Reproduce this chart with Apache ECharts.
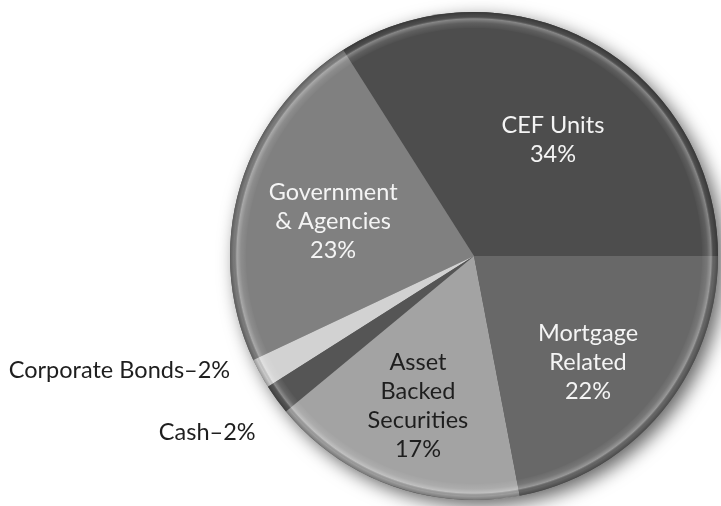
<!DOCTYPE html>
<html>
<head>
<meta charset="utf-8">
<script src="https://cdn.jsdelivr.net/npm/echarts@6/dist/echarts.min.js"></script>
<style>
  html, body { margin: 0; padding: 0; background: #ffffff; }
  #chart { width: 721px; height: 506px; }
</style>
</head>
<body>
<div id="chart"></div>
<script>
// Portfolio allocation, percent of total
const categories = ['CEF Units', 'Government\n& Agencies', 'Corporate Bonds', 'Cash', 'Asset\nBacked\nSecurities', 'Mortgage\nRelated'];
const shares = [34, 23, 2, 2, 17, 22];

// Styling per slice
const sliceColors = ['#4d4d4d', '#808080', '#d2d2d2', '#555555', '#a3a3a3', '#686868'];
const labelColors = ['#f4f4f4', '#f4f4f4', '#1e1e1e', '#1e1e1e', '#1e1e1e', '#f4f4f4'];
const labelOutside = [false, false, true, true, false, false];
// inside labels: fraction of radius and angular nudge (deg); outside labels: offset from the rim point
const labelRadius = [0.574, 0.594, 0, 0, 0.656, 0.639];
const labelNudge = [-5.5, 2.6, 0, 0, -0.7, -3.4];
const labelOffset = [null, null, [-30, -3], [-21, 33], null, null];

const CX = 474, CY = 256, R = 244;
const FONT = 'Lato, "Open Sans", sans-serif';

const total = shares.reduce((a, b) => a + b, 0);
const midAngles = [];
let acc = 0;
shares.forEach(v => {
  midAngles.push((acc + v / 2) / total * 360);
  acc += v;
});

const chart = echarts.init(document.getElementById('chart'), null, { renderer: 'canvas' });

chart.setOption({
  backgroundColor: '#ffffff',
  animation: false,
  series: [
    {
      // drop shadow under the disc
      type: 'pie',
      silent: true,
      center: [CX, CY],
      radius: R,
      label: { show: false },
      labelLine: { show: false },
      emphasis: { disabled: true },
      itemStyle: {
        color: '#555555',
        shadowBlur: 18,
        shadowColor: 'rgba(0,0,0,0.6)',
        shadowOffsetX: 6,
        shadowOffsetY: 6
      },
      data: [{ value: 1, name: '' }]
    },
    {
      type: 'pie',
      center: [CX, CY],
      radius: R,
      startAngle: 0,
      clockwise: false,
      avoidLabelOverlap: false,
      emphasis: { disabled: true },
      itemStyle: { borderWidth: 0 },
      labelLine: { show: false },
      data: categories.map((name, i) => ({
        name: name,
        value: shares[i],
        itemStyle: { color: sliceColors[i] },
        label: {
          show: true,
          position: labelOutside[i] ? 'outside' : 'inside',
          formatter: labelOutside[i] ? '{b}\u2013{c}%' : '{b}\n{c}%',
          color: labelColors[i],
          fontFamily: FONT,
          fontSize: 23.5,
          lineHeight: 29,
          align: labelOutside[i] ? 'right' : 'center'
        }
      })),
      labelLayout: function (p) {
        const i = p.dataIndex;
        if (labelOutside[i]) {
          const a = midAngles[i] * Math.PI / 180;
          const ex = CX + R * Math.cos(a);
          const ey = CY - R * Math.sin(a);
          return { x: ex + labelOffset[i][0], y: ey + labelOffset[i][1], align: 'right', verticalAlign: 'middle' };
        }
        const a = (midAngles[i] + labelNudge[i]) * Math.PI / 180;
        const r = R * labelRadius[i];
        return { x: CX + r * Math.cos(a), y: CY - r * Math.sin(a), align: 'center', verticalAlign: 'middle' };
      }
    },
    {
      // bevelled rim over the edge of the disc
      type: 'pie',
      silent: true,
      center: [CX, CY],
      radius: [R - 16, R],
      label: { show: false },
      labelLine: { show: false },
      emphasis: { disabled: true },
      itemStyle: {
        color: {
          type: 'radial', x: 0.5, y: 0.5, r: 0.5,
          colorStops: [
            { offset: 0.93, color: 'rgba(255,255,255,0)' },
            { offset: 0.955, color: 'rgba(255,255,255,0.10)' },
            { offset: 0.972, color: 'rgba(255,255,255,0.32)' },
            { offset: 0.984, color: 'rgba(0,0,0,0.04)' },
            { offset: 1, color: 'rgba(0,0,0,0.28)' }
          ]
        }
      },
      data: [{ value: 1, name: '' }]
    }
  ]
});
</script>
</body>
</html>
